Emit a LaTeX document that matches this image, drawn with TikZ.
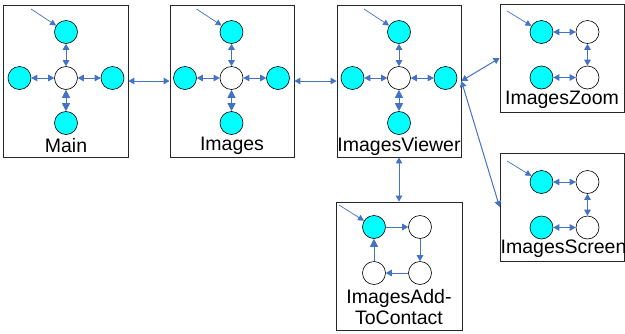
\documentclass[tikz,border=0pt]{standalone}
\usepackage{fontspec}
\setmainfont{Liberation Sans}
\usetikzlibrary{arrows.meta}
\definecolor{linkblue}{HTML}{4472C4}
\definecolor{aqua}{HTML}{00FFFF}
\tikzset{
  screenbox/.style={draw=black!85, line width=0.8pt, fill=white, inner sep=0pt},
  fullc/.style={circle, draw=black, line width=0.6pt, fill=aqua, minimum size=23pt, inner sep=0pt},
  emptyc/.style={circle, draw=black, line width=0.6pt, fill=white, minimum size=23pt, inner sep=0pt},
  link/.style={draw=linkblue, line width=1pt, {Triangle[length=6pt,width=6.5pt]}-{Triangle[length=6pt,width=6.5pt]}},
  biglink/.style={draw=linkblue, line width=1pt, {Triangle[length=8pt,width=8pt]}-{Triangle[length=8pt,width=8pt]}},
  onelink/.style={draw=linkblue, line width=1pt, -{Triangle[length=6pt,width=6.5pt]}},
  entry/.style={draw=linkblue, line width=0.7pt, -{Triangle[length=6pt,width=6pt]}},
  lbl/.style={font=\fontsize{19.5}{21}\selectfont, inner sep=0pt, align=center},
}
\begin{document}
\begin{tikzpicture}[x=1pt, y=-1pt]
\useasboundingbox (0,0) rectangle (625,333);

% screen frames
\node[screenbox, minimum width=125pt, minimum height=152pt] (main) at (65.5,81) {};
\node[screenbox, minimum width=124pt, minimum height=152pt] (images) at (232,81) {};
\node[screenbox, minimum width=124pt, minimum height=152pt] (viewer) at (399,81) {};
\node[screenbox, minimum width=124pt, minimum height=108pt] (zoom) at (562,58) {};
\node[screenbox, minimum width=124pt, minimum height=108pt] (screen) at (562,207) {};
\node[screenbox, minimum width=126pt, minimum height=128pt] (add) at (399,266) {};

% links between screens
\draw[link] (main.east) -- (images.west);
\draw[link] (images.east) -- (viewer.west);
\draw[link] (viewer.east) -- (zoom.west);
\draw[link] (viewer.east) -- (screen.west);
\draw[link] (viewer.south) -- (add.north);

% star layout inside the three large screens
\foreach \s/\cx in {m/66, i/231.5, v/399}{
  \node[emptyc] (\s c) at (\cx,78) {};
  \node[fullc] (\s t) at (\cx,32) {};
  \node[fullc] (\s l) at (\cx-46.5,78) {};
  \node[fullc] (\s r) at (\cx+46.5,78) {};
  \node[fullc] (\s b) at (\cx,123) {};
  \coordinate (\s in) at (\cx-35,9);
  \draw[link] (\s c) -- (\s t);
  \draw[link] (\s c) -- (\s l);
  \draw[link] (\s c) -- (\s r);
  \draw[biglink] (\s c) -- (\s b);
  \draw[entry] (\s in) -- (\s t);
}
\node[lbl] (mainlbl) at (66,146) {Main};
\node[lbl] (imageslbl) at (232,146) {Images};
\node[lbl] (viewerlbl) at (399,146) {ImagesViewer};

% square layout inside the two small screens
\foreach \s/\cy in {z/32, s/182}{
  \node[fullc] (\s a) at (541.5,\cy) {};
  \node[emptyc] (\s b) at (587.5,\cy) {};
  \node[fullc] (\s c) at (541.5,\cy+45.5) {};
  \node[emptyc] (\s d) at (587.5,\cy+45.5) {};
  \coordinate (\s in) at (507,\cy-21);
  \draw[link] (\s a) -- (\s b);
  \draw[link] (\s b) -- (\s d);
  \draw[link] (\s c) -- (\s d);
  \draw[entry] (\s in) -- (\s a);
}
\node[lbl] (zoomlbl) at (562,99.5) {ImagesZoom};
\node[lbl, anchor=west] (screenlbl) at (500.5,248.5) {ImagesScreen};

% cycle layout inside the contact screen
\node[fullc] (aa) at (374,227) {};
\node[emptyc] (ab) at (420,227) {};
\node[emptyc] (ac) at (420,273) {};
\node[emptyc] (ad) at (374,273) {};
\coordinate (ain) at (339,205);
\draw[onelink] (aa) -- (ab);
\draw[onelink] (ab) -- (ac);
\draw[onelink] (ac) -- (ad);
\draw[onelink, -{Triangle[length=8pt,width=8pt]}] (ad) -- (aa);
\draw[entry] (ain) -- (aa);
\node[lbl] (addlbl) at (399,307.5) {ImagesAdd-\\ToContact};
\end{tikzpicture}
\end{document}
